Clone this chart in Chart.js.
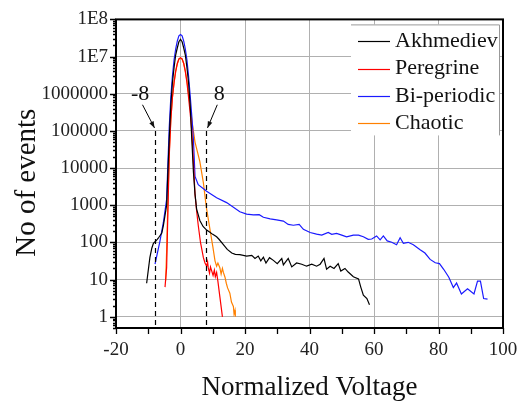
<!DOCTYPE html>
<html>
<head>
<meta charset="utf-8">
<script src="https://cdn.jsdelivr.net/npm/chart.js@4.4.0/dist/chart.umd.min.js"></script>
<style>
  html, body { margin: 0; padding: 0; background: #fff; }
</style>
</head>
<body>
<canvas id="events" width="531" height="407"></canvas>
<script>
// Akhmediev
var akhV = [-10.5,-9.5,-8.9,-8.4,-7.4,-6.9,-5.8,-5.3,-4.3,-4,-3.5,-3,-2.5,-2,-1.5,-1,-0.5,0,0.5,1,1.5,2,2.5,3,3.5,4,4.5,5,6,7,8.1,9,10,11.2,12,13.3,14.5,15.9,17,18.4,20.5,22.1,23.1,24.1,24.9,25.7,26.5,27.6,28.8,30,31.4,31.9,33.4,34.5,36,37.6,39.1,40.7,42.2,43.3,44.5,45.3,46.4,47.6,48.9,49.7,51,52,53.6,55.2,55.9,56.7,57.8,58.6];
var akhN = [8,39,70,95,115,130,180,290,1000,5000,6e4,5e5,2e6,5e6,1.1e7,1.7e7,2.5e7,2.9e7,2.5e7,1.7e7,1.1e7,5e6,2e6,5e5,6e4,8000,2000,790,390,270,215,190,165,142,120,87,65,52,48,47,43,45,37,43,32,40,28,39,33,27,37,25,37,22,28,26,23,26,23,26,37,19,23,20,27,17,20,16,12,10.5,6.3,3.8,3.1,2.1];
// Peregrine
var pereV = [-4.8,-4.3,-4,-3.5,-3,-2.5,-2,-1.5,-1,-0.5,0,0.5,1,1.5,2,2.5,3,3.5,4,4.5,5,5.5,6.2,7.1,7.6,8.1,8.4,8.6,9,9.3,9.7,10.1,10.5,10.8,11.2,11.6,12.2,13];
var pereN = [6.3,21,300,2e4,2e5,8e5,2e6,4e6,6.5e6,8.7e6,9.3e6,8.7e6,6.5e6,4e6,2e6,8e5,3e5,1e5,1.5e4,2000,700,290,100,39,28,23,30,21,15,22,17,13,18,12,15.6,9,3.5,1];
// Bi-periodic
var biV = [-7.9,-6.4,-5.3,-4.3,-4,-3.5,-3,-2.5,-2,-1.5,-1,-0.5,0,0.5,1,1.5,2,2.5,3,3.5,4,4.5,5.5,8.1,11.2,14.3,18.4,20.5,22.6,24.4,25.7,27.8,29.8,31.9,33.4,35,36.8,38.1,40.2,42.2,43.8,45.8,46.9,48.4,50,51.5,53.6,55.2,56.7,58.2,59.3,60.8,61.9,62.9,64.1,65.5,67,68.1,69.1,70.6,72.2,74.3,75.8,77.4,79,80.3,81.6,83.2,84.6,85.6,87.1,89,91,92.1,93,94,95.2];
var biN = [26,105,350,1440,8000,1.2e5,8e5,3e6,8e6,1.6e7,2.6e7,3.6e7,3.9e7,3.6e7,2.6e7,1.6e7,8e6,3e6,9e5,2.5e5,6e4,6000,3600,2400,1600,1180,670,580,550,560,475,430,405,375,305,290,305,225,185,168,158,185,165,175,158,142,158,158,142,121,124,150,117,150,110,101,87,134,95,101,87,64,52,35,28.5,27,19,11.6,6.1,8.1,4.1,5.7,4.1,9.1,9.1,3.1,3.0];
// Chaotic
var chaoV = [-4.6,-4.3,-4,-3.5,-3,-2.5,-2,-1.5,-1,-0.5,0,0.5,1,1.5,2,2.5,3,3.5,4.5,6,7.1,8,9.1,10,10.7,11.2,11.6,12.2,12.6,13,13.3,13.8,14.2,14.6,15.3,15.8,16.4,16.6,16.9,17];
var chaoN = [9.5,60,600,2.5e4,2e5,8e5,2e6,4e6,6.3e6,8.5e6,9e6,8.5e6,6.5e6,4e6,2.2e6,1e6,4.5e5,2e5,5e4,1.5e4,4000,900,235,80,32,23,28,21,14,20,15.6,11.6,8,6,4.3,2.5,1.9,1.2,1.5,1];

var names = ['Akhmediev', 'Peregrine', 'Bi-periodic', 'Chaotic'];
var colors = ['#000000', '#ff0000', '#1a1aff', '#ff8000'];
var yTicks = [1, 10, 100, 1000, 10000, 100000, 1000000, 1e7, 1e8];
var markers = [-8, 8];
var markerLabels = ['-8', '8'];

var serif = '"Liberation Serif", "Times New Roman", serif';

function pts(xs, ys) {
  return xs.map(function (v, i) { return { x: v, y: ys[i] }; });
}

// dashed markers, arrows, legend box, frame, minor ticks, y title
var decor = {
  id: 'decor',
  afterDatasetsDraw: function (chart) {
    var ctx = chart.ctx, a = chart.chartArea, x = chart.scales.x, y = chart.scales.y;
    ctx.save();
    var topPx = y.getPixelForValue(1e5);
    var labY = y.getPixelForValue(1e6);
    markers.forEach(function (m, i) {
      var mp = Math.round(x.getPixelForValue(m)) + 0.5;
      ctx.strokeStyle = '#000';
      ctx.lineWidth = 1.2;
      ctx.setLineDash([5, 4]);
      ctx.beginPath();
      ctx.moveTo(mp, topPx);
      ctx.lineTo(mp, a.bottom);
      ctx.stroke();
      ctx.setLineDash([]);
      // label
      var lx = x.getPixelForValue(m < 0 ? -12.5 : 12);
      ctx.fillStyle = '#111';
      ctx.font = '22px ' + serif;
      ctx.textAlign = 'center';
      ctx.textBaseline = 'middle';
      ctx.fillText(markerLabels[i], lx, labY);
      // arrow
      var sx = lx + (mp - lx) * 0.15, sy = labY + 11;
      var ex = mp + (lx < mp ? -1 : 1), ey = topPx - 3;
      ctx.lineWidth = 1;
      ctx.beginPath();
      ctx.moveTo(sx, sy);
      ctx.lineTo(ex, ey);
      ctx.stroke();
      var ang = Math.atan2(ey - sy, ex - sx);
      ctx.beginPath();
      ctx.moveTo(ex, ey);
      ctx.lineTo(ex - 7 * Math.cos(ang - 0.35), ey - 7 * Math.sin(ang - 0.35));
      ctx.lineTo(ex - 7 * Math.cos(ang + 0.35), ey - 7 * Math.sin(ang + 0.35));
      ctx.closePath();
      ctx.fill();
    });

    // legend
    var bx = a.right - 152, by = a.top + 5, bw = 148, bh = 111;
    ctx.fillStyle = '#fff';
    ctx.fillRect(bx, by, bw, bh);
    ctx.strokeStyle = '#999';
    ctx.lineWidth = 1;
    ctx.beginPath();
    ctx.moveTo(bx, by + 0.5);
    ctx.lineTo(bx + bw + 0.5, by + 0.5);
    ctx.lineTo(bx + bw + 0.5, by + bh);
    ctx.stroke();
    ctx.font = '22px ' + serif;
    ctx.textAlign = 'left';
    ctx.textBaseline = 'middle';
    names.forEach(function (n, i) {
      var cy = by + 17 + i * 27.3;
      ctx.strokeStyle = colors[i];
      ctx.lineWidth = 1.2;
      ctx.beginPath();
      ctx.moveTo(bx + 7, Math.round(cy) + 0.5);
      ctx.lineTo(bx + 39, Math.round(cy) + 0.5);
      ctx.stroke();
      ctx.fillStyle = '#111';
      ctx.fillText(n, bx + 44, cy);
    });
    ctx.restore();
  },
  afterDraw: function (chart) {
    var ctx = chart.ctx, a = chart.chartArea, x = chart.scales.x, y = chart.scales.y;
    ctx.save();
    ctx.strokeStyle = '#000';
    ctx.lineWidth = 1.3;
    ctx.beginPath();
    for (var d = -1; d <= 8; d++) {
      for (var k = 1; k <= 9; k++) {
        var v = k * Math.pow(10, d);
        if (v < 0.5 || v > 1e8) continue;
        var py = Math.round(y.getPixelForValue(v)) + 0.5;
        var len = k === 1 ? 6 : 3;
        ctx.moveTo(a.left - len, py);
        ctx.lineTo(a.left, py);
      }
    }
    for (var t = -20; t <= 100; t += 10) {
      var px = Math.round(x.getPixelForValue(t)) + 0.5;
      ctx.moveTo(px, a.bottom);
      ctx.lineTo(px, a.bottom + 6);
    }
    ctx.stroke();
    ctx.lineWidth = 2;
    ctx.strokeRect(a.left, a.top, a.right - a.left, a.bottom - a.top);

    // y axis title, a little below the plot centre as in the source
    ctx.translate(27, (a.top + a.bottom) / 2 + 9);
    ctx.rotate(-Math.PI / 2);
    ctx.fillStyle = '#111';
    ctx.font = '29px ' + serif;
    ctx.textAlign = 'center';
    ctx.textBaseline = 'middle';
    ctx.fillText('No of events', 0, 0);
    ctx.restore();
  }
};

new Chart(document.getElementById('events'), {
  type: 'line',
  data: {
    datasets: [
      { label: names[0], data: pts(akhV, akhN), borderColor: colors[0] },
      { label: names[1], data: pts(pereV, pereN), borderColor: colors[1] },
      { label: names[2], data: pts(biV, biN), borderColor: colors[2] },
      { label: names[3], data: pts(chaoV, chaoN), borderColor: colors[3] }
    ]
  },
  options: {
    responsive: false,
    animation: false,
    layout: { padding: { top: 12, right: 28, left: 0, bottom: 0 } },
    elements: {
      point: { radius: 0 },
      line: { borderWidth: 1.2, tension: 0 }
    },
    plugins: {
      legend: { display: false },
      tooltip: { enabled: false }
    },
    scales: {
      x: {
        type: 'linear',
        min: -20,
        max: 100,
        ticks: { stepSize: 20, color: '#222', font: { family: serif, size: 19 }, padding: 11 },
        grid: { color: '#b0b0b0', drawTicks: false },
        border: { display: false },
        title: {
          display: true,
          text: 'Normalized Voltage',
          color: '#111',
          font: { family: serif, size: 27 },
          padding: { top: 0, bottom: 3 }
        },
        afterFit: function (s) { s.height = 79; }
      },
      y: {
        type: 'logarithmic',
        min: 0.5,
        max: 1e8,
        afterBuildTicks: function (s) {
          s.ticks = yTicks.map(function (v) { return { value: v }; });
        },
        ticks: {
          autoSkip: false,
          color: '#222',
          font: { family: serif, size: 19 },
          padding: 8,
          callback: function (v) {
            return v >= 1e7 ? '1E' + Math.round(Math.log10(v)) : String(v);
          }
        },
        grid: { color: '#b0b0b0', drawTicks: false },
        border: { display: false },
        afterFit: function (s) { s.width = 116; }
      }
    }
  },
  plugins: [decor]
});
</script>
</body>
</html>
